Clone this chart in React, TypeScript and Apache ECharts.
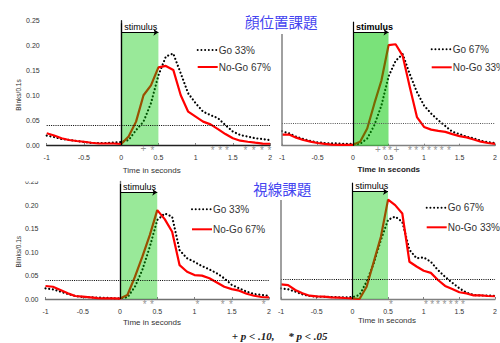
import React, { useEffect, useRef } from "react";
import * as echarts from "echarts";

// ---------- data ----------
const TIMES = [-1, -0.9, -0.8, -0.7, -0.6, -0.5, -0.4, -0.3, -0.2, -0.1, 0, 0.1, 0.2, 0.3, 0.4, 0.5, 0.6, 0.7, 0.8, 0.9, 1, 1.1, 1.2, 1.3, 1.4, 1.5, 1.6, 1.7, 1.8, 1.9, 2];

// 顔位置課題 (face position task)
const GO_1 = [0.019, 0.016, 0.012, 0.010, 0.008, 0.006, 0.004, 0.004, 0.004, 0.005, 0.006, 0.010, 0.030, 0.047, 0.084, 0.140, 0.178, 0.184, 0.144, 0.104, 0.084, 0.067, 0.060, 0.054, 0.040, 0.027, 0.020, 0.017, 0.0135, 0.012, 0.010];
const NOGO_1 = [0.0235, 0.019, 0.0135, 0.010, 0.008, 0.0065, 0.0045, 0.003, 0.003, 0.003, 0.002, 0.017, 0.047, 0.100, 0.120, 0.156, 0.159, 0.151, 0.100, 0.067, 0.057, 0.047, 0.0415, 0.032, 0.022, 0.0135, 0.0087, 0.0066, 0.0046, 0.0027, 0.0025];
const GO_2 = [0.0326, 0.0275, 0.020, 0.015, 0.0104, 0.0075, 0.006, 0.005, 0.005, 0.004, 0.004, 0.004, 0.016, 0.046, 0.090, 0.155, 0.190, 0.205, 0.160, 0.120, 0.090, 0.072, 0.057, 0.044, 0.031, 0.026, 0.020, 0.0164, 0.011, 0.008, 0.006];
const NOGO_2 = [0.025, 0.025, 0.018, 0.0127, 0.009, 0.006, 0.004, 0.0025, 0.002, 0.002, 0.002, 0.009, 0.0385, 0.094, 0.146, 0.225, 0.227, 0.201, 0.131, 0.064, 0.042, 0.036, 0.033, 0.031, 0.026, 0.0215, 0.0186, 0.014, 0.009, 0.006, 0.004];
// 視線課題 (gaze task)
const GO_3 = [0.0227, 0.0206, 0.0156, 0.0106, 0.0064, 0.004, 0.0036, 0.003, 0.0025, 0.0015, 0.0015, 0.0036, 0.026, 0.062, 0.111, 0.168, 0.182, 0.175, 0.104, 0.0866, 0.079, 0.070, 0.063, 0.0547, 0.044, 0.030, 0.0227, 0.0156, 0.0106, 0.0085, 0.007];
const NOGO_3 = [0.0277, 0.026, 0.019, 0.012, 0.0064, 0.005, 0.0036, 0.002, 0.0015, 0.0015, 0.001, 0.0085, 0.047, 0.090, 0.136, 0.189, 0.170, 0.143, 0.072, 0.058, 0.051, 0.0497, 0.044, 0.035, 0.026, 0.021, 0.0177, 0.0113, 0.007, 0.0043, 0.0036];
const GO_4 = [0.027, 0.0245, 0.0185, 0.0118, 0.0076, 0.006, 0.0055, 0.005, 0.0045, 0.0042, 0.0046, 0.010, 0.044, 0.090, 0.149, 0.200, 0.208, 0.195, 0.124, 0.103, 0.105, 0.094, 0.073, 0.056, 0.041, 0.027, 0.016, 0.010, 0.009, 0.0085, 0.008];
const NOGO_4 = [0.037, 0.035, 0.0227, 0.0144, 0.0084, 0.0067, 0.006, 0.0042, 0.0034, 0.0025, 0.0017, 0.0, 0.031, 0.094, 0.157, 0.251, 0.237, 0.216, 0.094, 0.082, 0.0715, 0.066, 0.048, 0.033, 0.025, 0.017, 0.014, 0.0093, 0.009, 0.0076, 0.007];

const GO_NAMES = ["Go 33%", "Go 67%", "Go 33%", "Go 67%"];
const NOGO_NAMES = ["No-Go 67%", "No-Go 33%", "No-Go 67%", "No-Go 33%"];
const THRESHOLDS = [0.036, 0.047, 0.0355, 0.047];
const STIM_START = 0;
const STIM_END = 0.5;
const STIM_LABEL = "stimulus";

// significance markers (time, symbol)
const SIG_T_1 = [0.30, 0.42, 1.23, 1.33, 1.42, 1.67, 1.78, 1.89, 1.99];
const SIG_S_1 = ["+", "*", "*", "*", "*", "*", "*", "*", "*"];
const SIG_T_2 = [0.35, 0.44, 0.52, 0.61, 0.80, 0.89, 0.98, 1.07, 1.16, 1.25, 1.35];
const SIG_S_2 = ["+", "*", "*", "+", "*", "*", "*", "*", "*", "*", "*"];
const SIG_T_3 = [0.33, 0.43, 1.04, 1.38, 1.49, 1.93];
const SIG_S_3 = ["*", "*", "*", "*", "*", "*"];
const SIG_T_4 = [0.54, 1.03, 1.12, 1.20, 1.29, 1.38, 1.46, 1.55];
const SIG_S_4 = ["*", "*", "*", "*", "*", "*", "*", "*"];

const TITLES = ["顔位置課題", "視線課題"];
const X_NAME = "Time in seconds";
const Y_NAME = "Blinks/0.1s";
const FOOT_A = "+ p < .10,";
const FOOT_B = "* p < .05";

// ---------- layout / style (not data) ----------
const GO = [GO_1, GO_2, GO_3, GO_4];
const NOGO = [NOGO_1, NOGO_2, NOGO_3, NOGO_4];
const SIG_T = [SIG_T_1, SIG_T_2, SIG_T_3, SIG_T_4];
const SIG_S = [SIG_S_1, SIG_S_2, SIG_S_3, SIG_S_4];

const GRIDS = [
  { left: 46.7, top: 20.7, width: 223.4, height: 124.3 },
  { left: 282, top: 21.7, width: 225.9, height: 124 },
  { left: 45.5, top: 181.5, width: 223.5, height: 117.5 },
  { left: 281, top: 182.7, width: 222.6, height: 116.3 },
];
const Y_MAX = [0.25, 0.2775, 0.25, 0.2937];
const GREEN_TOP = [0.2266, 0.2538, 0.227, 0.271];
const V_TOP = [0.2447, 0.2775, 0.2447, 0.2937];
const GREEN = ["rgba(0,200,0,0.4)", "rgba(0,200,0,0.52)", "rgba(0,200,0,0.4)", "rgba(0,200,0,0.4)"];
const SHOW_Y_LABELS = [true, false, true, false];
const AXIS_COLOR = ["#222", "#808080", "#707070", "#808080"];
const LEGEND_POS = [
  { left: 191.7, top: 39, gap: 5 },
  { left: 425.7, top: 38.3, gap: 6 },
  { left: 186, top: 198.3, gap: 8 },
  { left: 420.7, top: 196.7, gap: 7.6 },
];

const FONT = "'Liberation Sans', Arial, sans-serif";

function buildOption() {
  const grid = GRIDS.map((g) => ({ ...g, containLabel: false }));
  const xAxis = GRIDS.map((_, i) => ({
    type: "value",
    gridIndex: i,
    min: -1,
    max: 2,
    interval: 0.5,
    axisLine: { show: true, onZero: false, lineStyle: { color: AXIS_COLOR[i], width: 1.3 } },
    axisTick: { show: true, inside: true, length: 2, lineStyle: { color: "#808080" } },
    splitLine: { show: false },
    axisLabel: {
      fontSize: 7,
      lineHeight: 7,
      color: "#333",
      margin: 8.5,
      fontFamily: FONT,
      formatter: (v: number) => String(v),
    },
  }));
  const yAxis = GRIDS.map((_, i) => ({
    type: "value",
    gridIndex: i,
    min: 0,
    max: Y_MAX[i],
    interval: 0.05,
    axisLine: { show: SHOW_Y_LABELS[i], lineStyle: { color: AXIS_COLOR[i], width: 1.3 } },
    axisTick: { show: false },
    splitLine: { show: false },
    axisLabel: {
      show: SHOW_Y_LABELS[i],
      fontSize: 7,
      color: "#333",
      margin: 7,
      fontFamily: FONT,
      formatter: (v: number) => v.toFixed(2),
    },
  }));

  const series: any[] = [];
  GRIDS.forEach((_, i) => {
    const markLineData: any[] = [
      { yAxis: THRESHOLDS[i], lineStyle: { type: [1, 1.2], width: 1, color: i === 1 ? "#555" : "#000" } },
      [
        { coord: [STIM_START, 0], lineStyle: { color: "#000", width: 1.2, type: "solid" } },
        { coord: [STIM_START, V_TOP[i]] },
      ],
      [
        {
          coord: [STIM_START, GREEN_TOP[i]],
          symbol: "none",
          lineStyle: { color: "#000", width: 1, type: "solid" },
          label: {
            show: true,
            formatter: STIM_LABEL,
            position: "insideStartTop",
            distance: [3, 1],
            fontSize: 9,
            color: "#000",
            fontWeight: i === 1 ? "bold" : "normal",
            fontFamily: FONT,
          },
        },
        { coord: [STIM_END, GREEN_TOP[i]], symbol: "arrow", symbolSize: 5 },
      ],
    ];
    if (!SHOW_Y_LABELS[i]) {
      markLineData.push([
        { coord: [-1, 0], lineStyle: { color: AXIS_COLOR[i], width: 1.5, type: "solid" } },
        { coord: [-1, 0.25] },
      ]);
    }
    series.push({
      type: "line",
      name: GO_NAMES[i],
      xAxisIndex: i,
      yAxisIndex: i,
      data: TIMES.map((t, k) => [t, GO[i][k]]),
      symbol: "none",
      showSymbol: false,
      lineStyle: { color: "#000", width: 2.2, type: [0.01, 3.7], cap: "round" },
      itemStyle: { color: "#000" },
      z: 2,
      markLine: {
        silent: true,
        symbol: "none",
        z: 6,
        label: { show: false },
        data: markLineData,
      },
    });
    series.push({
      type: "line",
      name: NOGO_NAMES[i],
      xAxisIndex: i,
      yAxisIndex: i,
      data: TIMES.map((t, k) => [t, NOGO[i][k]]),
      symbol: "none",
      showSymbol: false,
      lineStyle: { color: "#ff0000", width: 2.2 },
      itemStyle: { color: "#ff0000" },
      z: 2,
      markArea: {
        silent: true,
        z: 3,
        itemStyle: { color: GREEN[i] },
        label: { show: false },
        data: [[{ coord: [STIM_START, 0] }, { coord: [STIM_END, GREEN_TOP[i]] }]],
      },
    });
    series.push({
      type: "scatter",
      xAxisIndex: i,
      yAxisIndex: i,
      clip: false,
      silent: true,
      symbol: "circle",
      symbolSize: 1,
      itemStyle: { color: "rgba(0,0,0,0)" },
      z: 7,
      data: SIG_T[i].map((t, k) => ({
        value: [t, 0],
        label: { formatter: SIG_S[i][k], offset: [0, SIG_S[i][k] === "+" ? 3.5 : 5] },
      })),
      label: {
        show: true,
        position: "inside",
        fontSize: 10,
        lineHeight: 4,
        color: "#777",
        fontFamily: FONT,
        verticalAlign: "middle",
      },
    });
  });

  const legend = LEGEND_POS.map((p, i) => ({
    orient: "vertical",
    left: p.left,
    top: p.top,
    itemGap: p.gap,
    itemWidth: 20,
    itemHeight: 12,
    selectedMode: false,
    itemStyle: { opacity: 0 },
    data: [GO_NAMES[i], NOGO_NAMES[i]],
    textStyle: { fontSize: 10, color: "#333", fontFamily: FONT, padding: [0, 0, 0, -4], lineHeight: 12 },
  }));

  const txt = (text: string, x: number, y: number, extra: any = {}) => ({
    type: "text",
    x,
    y,
    z: 50,
    ...extra.el,
    style: {
      text,
      fill: "#333",
      fontSize: 8,
      fontFamily: FONT,
      textAlign: "center",
      textVerticalAlign: "middle",
      verticalAlign: "middle",
      ...extra.style,
    },
  });

  const graphic = [
    txt(TITLES[0], 245, 21.7, { style: { textAlign: "left", fontSize: 14.5, fill: "#4444f0", fontFamily: "'Noto Sans CJK JP', sans-serif" } }),
    txt(TITLES[1], 253.3, 188.3, { style: { textAlign: "left", fontSize: 14.5, fill: "#4444f0", fontFamily: "'Noto Sans CJK JP', sans-serif" } }),
    txt(X_NAME, 151.7, 170),
    txt(X_NAME, 388.8, 169.5, { style: { fontWeight: "bold", fill: "#222" } }),
    txt(X_NAME, 152, 322.3),
    txt(X_NAME, 387, 320.7),
    txt(Y_NAME, 18, 95, { el: { rotation: Math.PI / 2 }, style: { fontSize: 6.5 } }),
    txt(Y_NAME, 18, 251.7, { el: { rotation: Math.PI / 2 }, style: { fontSize: 6.5 } }),
    {
      type: "rect",
      z: 60,
      shape: { x: 18, y: 174, width: 26, height: 7.5 },
      style: { fill: "#fff" },
    },
    txt(FOOT_A, 231.7, 335.5, { style: { textAlign: "left", fontSize: 11, fontStyle: "italic", fontWeight: "bold", fill: "#222", fontFamily: "'Liberation Serif', serif" } }),
    txt(FOOT_B, 288.3, 335.5, { style: { textAlign: "left", fontSize: 11, fontStyle: "italic", fontWeight: "bold", fill: "#222", fontFamily: "'Liberation Serif', serif" } }),
  ];

  return {
    animation: false,
    backgroundColor: "#fff",
    textStyle: { fontFamily: FONT },
    grid,
    xAxis,
    yAxis,
    legend,
    series,
    graphic,
  };
}

export default function App() {
  const ref = useRef<HTMLDivElement>(null);
  useEffect(() => {
    document.body.style.margin = "0";
    if (!ref.current) return;
    const chart = echarts.init(ref.current, null, { renderer: "svg" });
    chart.setOption(buildOption() as any);
    return () => chart.dispose();
  }, []);
  return <div ref={ref} style={{ width: 500, height: 343 }} />;
}
